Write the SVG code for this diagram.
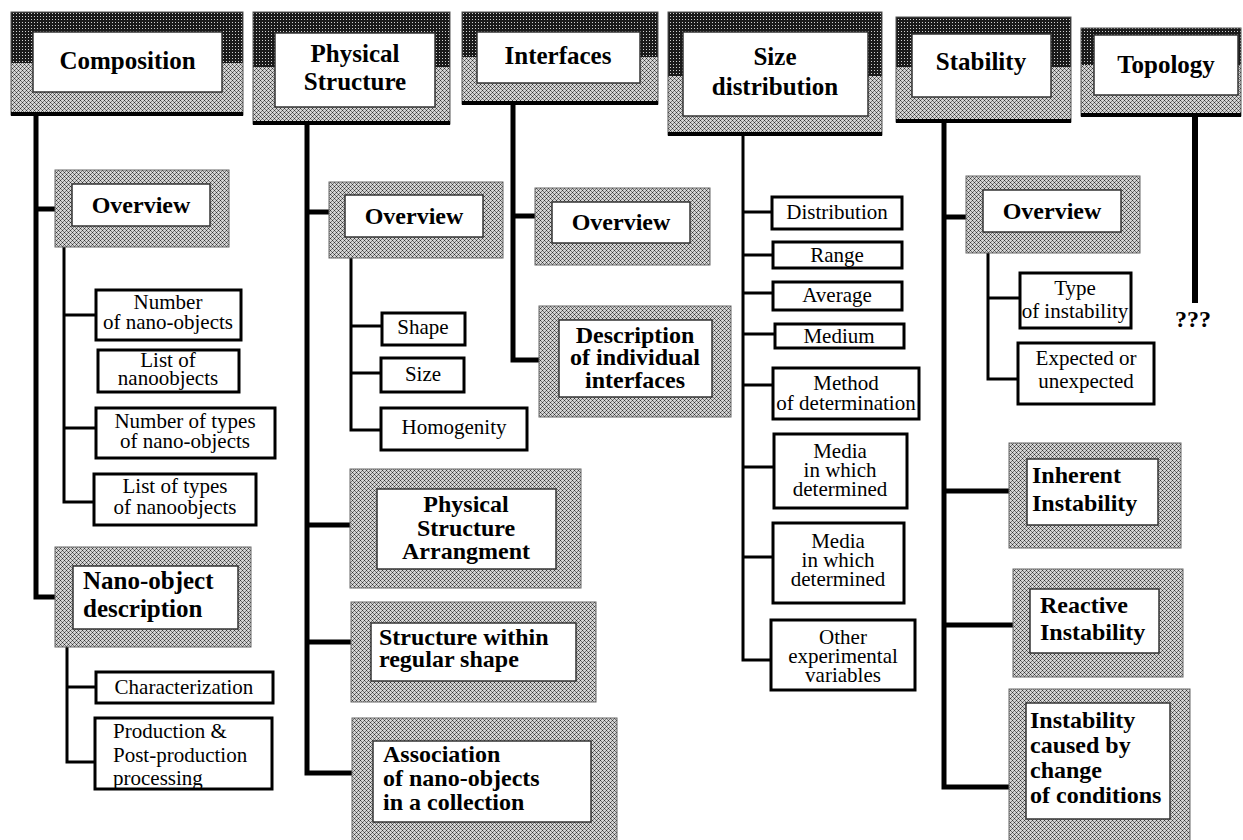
<svg xmlns="http://www.w3.org/2000/svg" width="1243" height="840" viewBox="0 0 1243 840">
<defs>
<pattern id="dk" width="3" height="3" patternUnits="userSpaceOnUse"><rect width="3" height="3" fill="#1a1a1a"/><rect x="1" y="1" width="1" height="1" fill="#d0d0d0"/></pattern>
<pattern id="lt" width="4" height="4" patternUnits="userSpaceOnUse"><rect width="4" height="4" fill="#d4d4d4"/><rect x="0" y="0" width="1" height="1" fill="#333"/><rect x="2" y="2" width="1" height="1" fill="#333"/><rect x="1" y="1" width="1" height="1" fill="#777"/><rect x="3" y="3" width="1" height="1" fill="#777"/><rect x="3" y="1" width="1" height="1" fill="#777"/><rect x="1" y="3" width="1" height="1" fill="#777"/></pattern>
</defs>
<style>
.ob{fill:none;stroke:#555;stroke-width:1}
.bar{fill:#000}
.in{fill:#fff;stroke:#333;stroke-width:1.5}
.po{fill:url(#lt);stroke:#666;stroke-width:1}
.wb{fill:#fff;stroke:#000;stroke-width:3}
.h{font-family:"Liberation Serif","Times New Roman",serif;font-weight:bold;font-size:25px;text-anchor:middle;fill:#000}
.b{font-family:"Liberation Serif","Times New Roman",serif;font-weight:bold;font-size:24px;fill:#000}
.bc{font-family:"Liberation Serif","Times New Roman",serif;font-weight:bold;font-size:24px;fill:#000;text-anchor:middle}
.r{font-family:"Liberation Serif","Times New Roman",serif;font-size:21px;fill:#000;text-anchor:middle}
.rl{font-family:"Liberation Serif","Times New Roman",serif;font-size:21px;fill:#000;text-anchor:start}
.tk{stroke:#000;stroke-width:5;fill:none}
.tn{stroke:#000;stroke-width:3;fill:none}
</style>
<rect width="1243" height="840" fill="#fff"/>

<g id="connectors">
<path class="tk" d="M36 115 V597 H55 M36 209 H55"/>
<path class="tn" d="M64 247 V502 H94 M64 315 H96 M64 428 H96"/>
<path class="tn" d="M67 647 V762 H95 M67 687 H96"/>
<path class="tk" d="M307 124 V773 H352 M307 212 H329 M307 525 H350 M307 642 H351"/>
<path class="tn" d="M351 258 V430 H381 M351 326 H382 M351 373 H381"/>
<path class="tk" d="M513 104 V360 H539 M513 216 H535"/>
<path class="tn" d="M743 135 V660 H771 M743 212 H772 M743 255 H773 M743 293 H773 M743 334 H775 M743 385 H773 M743 467 H774 M743 557 H773"/>
<path class="tk" d="M944 122 V787 H1009 M944 217 H966 M944 491 H1009 M944 625 H1013"/>
<path class="tn" d="M988 253 V379 H1018 M988 298 H1020"/>
<path d="M1195 116 V303" stroke="#000" stroke-width="6"/>
</g>

<g id="h-composition">
<rect x="11" y="12" width="232" height="51" fill="url(#dk)"/>
<rect x="11" y="63" width="232" height="50" fill="url(#lt)"/>
<rect class="ob" x="11" y="12" width="232" height="103"/>
<rect class="bar" x="11" y="112" width="232" height="4"/>
<rect class="in" x="33" y="32" width="189" height="60"/>
<text class="h" x="127.5" y="69">Composition</text>
</g>
<g id="h-physical">
<rect x="253" y="12" width="197" height="55" fill="url(#dk)"/>
<rect x="253" y="67" width="197" height="54" fill="url(#lt)"/>
<rect class="ob" x="253" y="12" width="197" height="112"/>
<rect class="bar" x="253" y="121" width="197" height="4"/>
<rect class="in" x="275" y="33" width="160" height="74"/>
<text class="h" x="355" y="62">Physical</text>
<text class="h" x="355" y="90">Structure</text>
</g>
<g id="h-interfaces">
<rect x="462" y="12" width="196" height="45" fill="url(#dk)"/>
<rect x="462" y="57" width="196" height="44" fill="url(#lt)"/>
<rect class="ob" x="462" y="12" width="196" height="92"/>
<rect class="bar" x="462" y="101" width="196" height="4"/>
<rect class="in" x="477" y="32" width="163" height="51"/>
<text class="h" x="558" y="64">Interfaces</text>
</g>
<g id="h-size">
<rect x="668" y="12" width="214" height="64" fill="url(#dk)"/>
<rect x="668" y="76" width="214" height="56" fill="url(#lt)"/>
<rect class="ob" x="668" y="12" width="214" height="123"/>
<rect class="bar" x="668" y="132" width="214" height="4"/>
<rect class="in" x="683" y="32" width="185" height="84"/>
<text class="h" x="775" y="65">Size</text>
<text class="h" x="775" y="95">distribution</text>
</g>
<g id="h-stability">
<rect x="896" y="17" width="175" height="50" fill="url(#dk)"/>
<rect x="896" y="67" width="175" height="52" fill="url(#lt)"/>
<rect class="ob" x="896" y="17" width="175" height="105"/>
<rect class="bar" x="896" y="119" width="175" height="4"/>
<rect class="in" x="912" y="34" width="139" height="63"/>
<text class="h" x="981" y="70">Stability</text>
</g>
<g id="h-topology">
<rect x="1081" y="28" width="160" height="37" fill="url(#dk)"/>
<rect x="1081" y="65" width="160" height="48" fill="url(#lt)"/>
<rect class="ob" x="1081" y="28" width="160" height="88"/>
<rect class="bar" x="1081" y="113" width="160" height="4"/>
<rect class="in" x="1094" y="35" width="144" height="60"/>
<text class="h" x="1166" y="73">Topology</text>
</g>

<g id="c-overview">
<rect class="po" x="55" y="170" width="174" height="77"/>
<rect class="in" x="72" y="184" width="138" height="42"/>
<text class="bc" x="141" y="213">Overview</text>
</g>
<g id="c-number">
<rect class="wb" x="96" y="290" width="145" height="50"/>
<text class="r" x="168" y="309">Number</text>
<text class="r" x="168" y="329">of nano-objects</text>
</g>
<g id="c-list">
<rect class="wb" x="98" y="350" width="141" height="42"/>
<text class="r" x="168" y="367">List of</text>
<text class="r" x="168" y="385">nanoobjects</text>
</g>
<g id="c-numtypes">
<rect class="wb" x="96" y="408" width="179" height="50"/>
<text class="r" x="185" y="428">Number of types</text>
<text class="r" x="185" y="448">of nano-objects</text>
</g>
<g id="c-listtypes">
<rect class="wb" x="94" y="474" width="162" height="51"/>
<text class="r" x="175" y="493">List of types</text>
<text class="r" x="175" y="514">of nanoobjects</text>
</g>
<g id="c-nano">
<rect class="po" x="55" y="547" width="196" height="100"/>
<rect class="in" x="73" y="566" width="165" height="63"/>
<text class="b" x="83" y="589" style="font-size:25px">Nano-object</text>
<text class="b" x="83" y="617" style="font-size:25px">description</text>
</g>
<g id="c-char">
<rect class="wb" x="96" y="672" width="177" height="31"/>
<text class="r" x="184" y="694">Characterization</text>
</g>
<g id="c-prod">
<rect class="wb" x="95" y="718" width="177" height="71"/>
<text class="rl" x="113" y="738">Production &amp;</text>
<text class="rl" x="113" y="762">Post-production</text>
<text class="rl" x="113" y="785">processing</text>
</g>

<g id="p-overview">
<rect class="po" x="329" y="182" width="174" height="76"/>
<rect class="in" x="345" y="195" width="138" height="42"/>
<text class="bc" x="414" y="224">Overview</text>
</g>
<g id="p-shape">
<rect class="wb" x="382" y="313" width="83" height="32"/>
<text class="r" x="423" y="334">Shape</text>
</g>
<g id="p-size">
<rect class="wb" x="381" y="358" width="83" height="34"/>
<text class="r" x="423" y="381">Size</text>
</g>
<g id="p-homog">
<rect class="wb" x="381" y="408" width="146" height="42"/>
<text class="r" x="454" y="434">Homogenity</text>
</g>
<g id="p-arr">
<rect class="po" x="350" y="469" width="231" height="119"/>
<rect class="in" x="377" y="489" width="179" height="80"/>
<text class="bc" x="466" y="512">Physical</text>
<text class="bc" x="466" y="536">Structure</text>
<text class="bc" x="466" y="559">Arrangment</text>
</g>
<g id="p-within">
<rect class="po" x="351" y="602" width="245" height="100"/>
<rect class="in" x="371" y="623" width="205" height="58"/>
<text class="b" x="379" y="645">Structure within</text>
<text class="b" x="379" y="667">regular shape</text>
</g>
<g id="p-assoc">
<rect class="po" x="352" y="718" width="265" height="125"/>
<rect class="in" x="373" y="741" width="218" height="81"/>
<text class="b" x="383" y="762">Association</text>
<text class="b" x="383" y="786">of nano-objects</text>
<text class="b" x="383" y="810">in a collection</text>
</g>

<g id="i-overview">
<rect class="po" x="535" y="188" width="175" height="77"/>
<rect class="in" x="552" y="202" width="138" height="41"/>
<text class="bc" x="621" y="230">Overview</text>
</g>
<g id="i-desc">
<rect class="po" x="539" y="306" width="192" height="111"/>
<rect class="in" x="559" y="320" width="153" height="77"/>
<text class="bc" x="635" y="343">Description</text>
<text class="bc" x="635" y="365">of individual</text>
<text class="bc" x="635" y="388">interfaces</text>
</g>

<g id="s-dist">
<rect class="wb" x="772" y="197" width="130" height="32"/>
<text class="r" x="837" y="219">Distribution</text>
</g>
<g id="s-range">
<rect class="wb" x="773" y="242" width="129" height="26"/>
<text class="r" x="837" y="262">Range</text>
</g>
<g id="s-avg">
<rect class="wb" x="773" y="282" width="129" height="28"/>
<text class="r" x="837" y="302">Average</text>
</g>
<g id="s-medium">
<rect class="wb" x="775" y="324" width="129" height="24"/>
<text class="r" x="839" y="343">Medium</text>
</g>
<g id="s-method">
<rect class="wb" x="773" y="368" width="146" height="51"/>
<text class="r" x="846" y="390">Method</text>
<text class="r" x="846" y="410">of determination</text>
</g>
<g id="s-media1">
<rect class="wb" x="774" y="434" width="133" height="74"/>
<text class="r" x="840" y="458">Media</text>
<text class="r" x="840" y="477">in which</text>
<text class="r" x="840" y="496">determined</text>
</g>
<g id="s-media2">
<rect class="wb" x="773" y="523" width="131" height="80"/>
<text class="r" x="838" y="548">Media</text>
<text class="r" x="838" y="567">in which</text>
<text class="r" x="838" y="586">determined</text>
</g>
<g id="s-other">
<rect class="wb" x="771" y="620" width="144" height="70"/>
<text class="r" x="843" y="644">Other</text>
<text class="r" x="843" y="663">experimental</text>
<text class="r" x="843" y="682">variables</text>
</g>

<g id="st-overview">
<rect class="po" x="966" y="176" width="174" height="77"/>
<rect class="in" x="983" y="190" width="138" height="42"/>
<text class="bc" x="1052" y="219">Overview</text>
</g>
<g id="st-type">
<rect class="wb" x="1020" y="273" width="111" height="55"/>
<text class="r" x="1075" y="295">Type</text>
<text class="r" x="1075" y="318">of instability</text>
</g>
<g id="st-expected">
<rect class="wb" x="1018" y="343" width="136" height="61"/>
<text class="r" x="1086" y="365">Expected or</text>
<text class="r" x="1086" y="388">unexpected</text>
</g>
<g id="st-inherent">
<rect class="po" x="1009" y="443" width="172" height="105"/>
<rect class="in" x="1027" y="459" width="131" height="66"/>
<text class="b" x="1032" y="483">Inherent</text>
<text class="b" x="1032" y="511">Instability</text>
</g>
<g id="st-reactive">
<rect class="po" x="1013" y="569" width="170" height="108"/>
<rect class="in" x="1030" y="589" width="129" height="64"/>
<text class="b" x="1040" y="613">Reactive</text>
<text class="b" x="1040" y="640">Instability</text>
</g>
<g id="st-change">
<rect class="po" x="1009" y="689" width="181" height="154"/>
<rect class="in" x="1026" y="703" width="144" height="116"/>
<text class="b" x="1030" y="728">Instability</text>
<text class="b" x="1030" y="753">caused by</text>
<text class="b" x="1030" y="778">change</text>
<text class="b" x="1030" y="803">of conditions</text>
</g>

<g id="t-unknown">
<text class="bc" x="1193" y="327">???</text>
</g>
</svg>
